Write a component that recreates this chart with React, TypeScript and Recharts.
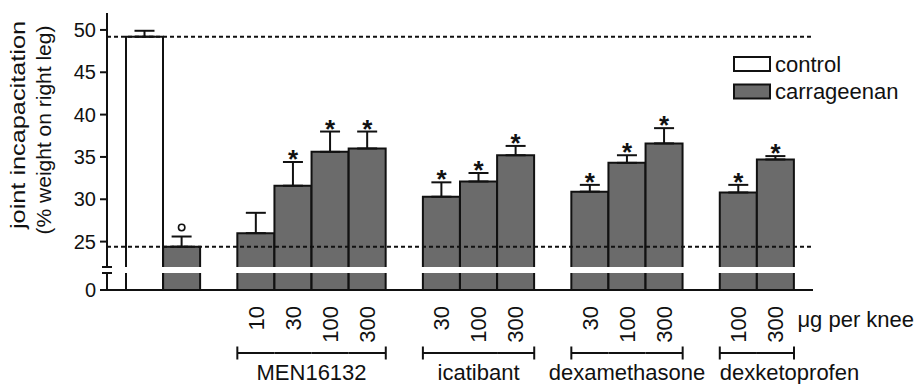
import React from 'react';
import { ComposedChart, Bar, ErrorBar, XAxis, YAxis, ReferenceLine, Scatter } from 'recharts';

// ---------- data ----------
const slotIds = ['control', 'carr', 'gap1', 'men10', 'men30', 'men100', 'men300', 'gap2', 'ica30', 'ica100', 'ica300', 'gap3', 'dex30', 'dex100', 'dex300', 'gap4', 'dk100', 'dk300'];
const seriesOfSlot = ['control', 'carrageenan', '', 'carrageenan', 'carrageenan', 'carrageenan', 'carrageenan', '', 'carrageenan', 'carrageenan', 'carrageenan', '', 'carrageenan', 'carrageenan', 'carrageenan', '', 'carrageenan', 'carrageenan'];
const groupOfSlot = ['', '', '', 'MEN16132', 'MEN16132', 'MEN16132', 'MEN16132', '', 'icatibant', 'icatibant', 'icatibant', '', 'dexamethasone', 'dexamethasone', 'dexamethasone', '', 'dexketoprofen', 'dexketoprofen'];
const doseOfSlot = ['', '', '', '10', '30', '100', '300', '', '30', '100', '300', '', '30', '100', '300', '', '100', '300'];
const meanValues: (number | null)[] = [49.2, 24.4, null, 26.0, 31.6, 35.6, 36.0, null, 30.3, 32.1, 35.2, null, 30.9, 34.3, 36.6, null, 30.8, 34.7];
const semValues: (number | null)[] = [0.7, 1.2, null, 2.4, 2.8, 2.4, 2.0, null, 1.7, 1.0, 1.1, null, 0.8, 0.9, 1.8, null, 0.9, 0.4];
const significance = ['', '°', '', '', '*', '*', '*', '', '*', '*', '*', '', '*', '*', '*', '', '*', '*'];
const legendLabels = ['control', 'carrageenan'];
const yLabelLines = ['joint incapacitation', '(% weight on right leg)'];
const doseUnit = 'μg per knee';
const upperTicks = [22, 25, 30, 35, 40, 45, 50];
const lowerTicks = [0, 2];
const upperDomain: [number, number] = [22, 52];
const lowerDomain: [number, number] = [0, 2];
const breakValues = [22, 2];

// ---------- styles ----------
const INK = '#111';
const FILLS: Record<string, string> = { control: '#ffffff', carrageenan: '#6b6b6b' };
const FONT = '"Liberation Sans", Arial, Helvetica, sans-serif';
const SW = 2;
const GROUP_ALIGN: Record<string, string> = { dexketoprofen: 'start' };

const data = slotIds.map((id, i) => ({
  id,
  series: seriesOfSlot[i],
  mean: meanValues[i],
  err: semValues[i] == null ? null : [0, semValues[i] as number],
  top: meanValues[i] == null ? null : (meanValues[i] as number) + (semValues[i] as number),
  mark: significance[i],
}));

const UpperBarShape = (props: any) => {
  const { x, y, width, height, payload } = props;
  if (!payload || payload.mean == null || !(height > 0)) return null;
  return (
    <g>
      <rect x={x} y={y} width={width} height={height} fill={FILLS[payload.series]} />
      <path d={`M${x},${y + height}V${y}H${x + width}V${y + height}`} fill="none" stroke={INK} strokeWidth={SW} />
    </g>
  );
};

const LowerBarShape = (props: any) => {
  const { x, y, width, height, payload } = props;
  if (!payload || payload.mean == null || !(height > 0)) return null;
  return (
    <g>
      <rect x={x} y={y} width={width} height={height} fill={FILLS[payload.series]} />
      <path d={`M${x},${y}V${y + height}M${x + width},${y}V${y + height}`} fill="none" stroke={INK} strokeWidth={SW} />
    </g>
  );
};

const MarkShape = (props: any) => {
  const { cx, cy, payload } = props;
  if (!payload || !payload.mark || cx == null || cy == null || isNaN(cy)) return null;
  if (payload.mark === '°') {
    return <circle cx={cx} cy={cy - 9} r={3.2} fill="none" stroke={INK} strokeWidth={1.6} />;
  }
  return (
    <text x={cx} y={cy + 6} textAnchor="middle" fontSize={26} fontWeight="bold" fill={INK} fontFamily={FONT}>
      {payload.mark}
    </text>
  );
};

const YTick = (props: any) => {
  const { x, y, payload } = props;
  const v = payload.value;
  if (breakValues.includes(v)) {
    return <line x1={x - 5} x2={x + 5} y1={y} y2={y} stroke={INK} strokeWidth={SW} />;
  }
  return (
    <g>
      <line x1={x - 7} x2={x} y1={y} y2={y} stroke={INK} strokeWidth={SW} />
      <text x={x - 11} y={y} dy="0.36em" textAnchor="end" fontSize={20} fill={INK} fontFamily={FONT}>
        {v}
      </text>
    </g>
  );
};

const XTick = (props: any) => {
  const { x, y, payload } = props;
  const i = payload.index ?? props.index;
  const half = payload.offset || 18.5;
  const dose = doseOfSlot[i];
  const group = groupOfSlot[i];
  const els: React.ReactNode[] = [];
  if (dose) {
    els.push(
      <text key="d" transform={`translate(${x},${y + 16}) rotate(-90)`} textAnchor="end" dy="0.35em" fontSize={22} fill={INK} fontFamily={FONT}>
        {dose}
      </text>
    );
  }
  if (group) {
    const by = y + 63;
    els.push(<line key="b" x1={x - half} x2={x + half} y1={by} y2={by} stroke={INK} strokeWidth={SW} />);
    const first = groupOfSlot[i - 1] !== group;
    const last = groupOfSlot[i + 1] !== group;
    if (first) {
      els.push(<line key="bl" x1={x - half} x2={x - half} y1={by - 6.5} y2={by + 6.5} stroke={INK} strokeWidth={SW} />);
      const n = groupOfSlot.filter((g) => g === group).length;
      const align = GROUP_ALIGN[group] || 'middle';
      const gx = align === 'start' ? x - half : x + (n - 1) * half;
      els.push(
        <text key="g" x={gx} y={y + 90} textAnchor={align} fontSize={22} fill={INK} fontFamily={FONT}>
          {group}
        </text>
      );
    }
    if (last) {
      els.push(<line key="br" x1={x + half} x2={x + half} y1={by - 6.5} y2={by + 6.5} stroke={INK} strokeWidth={SW} />);
    }
  }
  if (i === slotIds.length - 1) {
    els.push(
      <text key="u" x={x + 22} y={y + 37} fontSize={22} fill={INK} fontFamily={FONT}>
        {doseUnit}
      </text>
    );
  }
  return <g>{els}</g>;
};

const W = 917;
const MARGIN_RIGHT = 104;
const Y_W = 107;
const PAD = { left: 19, right: 19 };

export default function App() {
  return (
    <div style={{ position: 'absolute', left: 0, top: 0, width: W, height: 384, background: '#fff', fontFamily: FONT }}>
      <div style={{ position: 'absolute', left: 0, top: 0 }}>
        <ComposedChart width={W} height={270} data={data} margin={{ top: 13, right: MARGIN_RIGHT, bottom: 3, left: 0 }} barCategoryGap={0} barGap={0}>
          <XAxis dataKey="id" hide padding={PAD} />
          <YAxis
            type="number"
            domain={upperDomain}
            ticks={upperTicks}
            allowDataOverflow
            interval={0}
            width={Y_W}
            tickLine={false}
            tickSize={0}
            tickMargin={0}
            axisLine={{ stroke: INK, strokeWidth: SW }}
            tick={<YTick />}
          />
          <ReferenceLine y={meanValues[0] as number} stroke={INK} strokeWidth={SW} strokeDasharray="4 3" />
          <ReferenceLine y={meanValues[1] as number} stroke={INK} strokeWidth={SW} strokeDasharray="4 3" />
          <Bar dataKey="mean" isAnimationActive={false} shape={(p: any) => <UpperBarShape {...p} />}>
            <ErrorBar dataKey="err" width={10} stroke={INK} strokeWidth={SW} direction="y" isAnimationActive={false} />
          </Bar>
          <Scatter dataKey="top" isAnimationActive={false} shape={(p: any) => <MarkShape {...p} />} />
        </ComposedChart>
      </div>
      <div style={{ position: 'absolute', left: 0, top: 270 }}>
        <ComposedChart width={W} height={114} data={data} margin={{ top: 3, right: MARGIN_RIGHT, bottom: 0, left: 0 }} barCategoryGap={0} barGap={0}>
          <XAxis
            dataKey="id"
            padding={PAD}
            height={94}
            interval={0}
            tickLine={false}
            tickSize={0}
            tickMargin={0}
            axisLine={{ stroke: INK, strokeWidth: SW }}
            tick={<XTick />}
          />
          <YAxis
            type="number"
            domain={lowerDomain}
            ticks={lowerTicks}
            allowDataOverflow
            interval={0}
            width={Y_W}
            tickLine={false}
            tickSize={0}
            tickMargin={0}
            axisLine={{ stroke: INK, strokeWidth: SW }}
            tick={<YTick />}
          />
          <Bar dataKey="mean" isAnimationActive={false} shape={(p: any) => <LowerBarShape {...p} />} />
        </ComposedChart>
      </div>
      <svg width={W} height={384} style={{ position: 'absolute', left: 0, top: 0, pointerEvents: 'none', overflow: 'visible' }}>
        <text transform="translate(25,125) rotate(-90)" textAnchor="middle" fontSize={21} textLength={208} lengthAdjust="spacingAndGlyphs" fill={INK} fontFamily={FONT}>
          {yLabelLines[0]}
        </text>
        <text transform="translate(51,130) rotate(-90)" textAnchor="middle" fontSize={21} fill={INK} fontFamily={FONT}>
          {yLabelLines[1]}
        </text>
        {legendLabels.map((label, i) => (
          <g key={label}>
            <rect x={734} y={57 + i * 27.5} width={36} height={14} fill={FILLS[label]} stroke={INK} strokeWidth={SW} />
            <text x={775} y={71.5 + i * 27.5} fontSize={22} fill={INK} fontFamily={FONT}>
              {label}
            </text>
          </g>
        ))}
      </svg>
    </div>
  );
}
